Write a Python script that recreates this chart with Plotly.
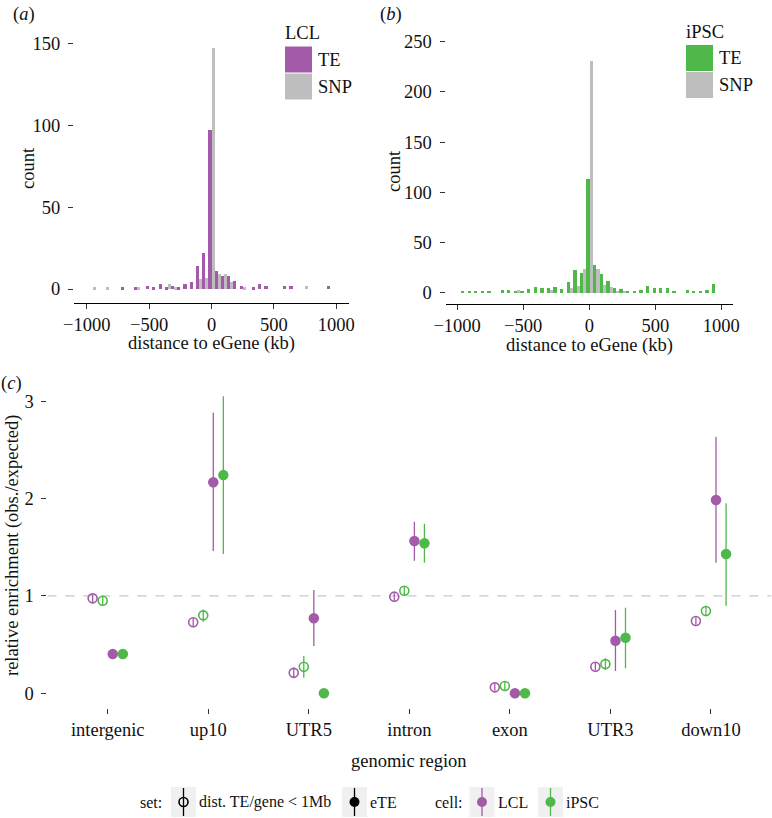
import plotly.graph_objects as go

W, H = 772, 818

# ---------------- data ----------------
BINS = [-1000, -950, -900, -850, -800, -750, -700, -650, -600, -550, -500,
        -450, -400, -350, -300, -250, -200, -150, -100, -50, 0,
        50, 100, 150, 200, 250, 300, 350, 400, 450, 500,
        550, 600, 650, 700, 750, 800, 850, 900, 950, 1000]

LCL_TE = [0, 0, 0, 0, 0, 0, 1, 0, 1, 0, 2,
          1, 3, 1, 2, 1, 3, 4, 14, 22, 97,
          11, 8, 8, 5, 2, 0, 1, 3, 2, 0,
          0, 2, 2, 0, 0, 0, 0, 0, 2, 0]
LCL_SNP = [0, 1, 0, 1, 0, 0, 0, 0, 1, 0, 0,
           0, 0, 3, 1, 0, 0, 0, 6, 7, 147,
           9, 9, 4, 0, 1, 0, 0, 0, 0, 0,
           0, 0, 0, 0, 2, 0, 0, 0, 0, 0]
IPSC_TE = [0, 2, 2, 2, 2, 2, 0, 3, 3, 1, 2,
           4, 6, 5, 5, 6, 4, 11, 23, 20, 113,
           28, 19, 12, 5, 4, 2, 2, 3, 7, 5,
           5, 5, 1, 0, 3, 1, 1, 3, 9, 0]
IPSC_SNP = [0, 0, 0, 0, 0, 0, 0, 0, 0, 3, 0,
            0, 0, 0, 3, 0, 0, 5, 7, 24, 231,
            24, 8, 6, 2, 1, 0, 0, 0, 0, 0,
            0, 0, 0, 0, 0, 0, 0, 0, 0, 0]

X_TICKS_A = [-1000, -500, 0, 500, 1000]
X_TICKTEXT_A = ["\u22121000", "\u2212500", "0", "500", "1000"]
Y_TICKS_A = [0, 50, 100, 150]
Y_TICKS_B = [0, 50, 100, 150, 200, 250]

REGIONS = ["intergenic", "up10", "UTR5", "intron", "exon", "UTR3", "down10"]

LCL_ALL = [0.975, 0.729, 0.21, 0.992, 0.061, 0.273, 0.742]
LCL_ALL_LO = [0.935, 0.69, 0.16, 0.955, 0.025, 0.235, 0.705]
LCL_ALL_HI = [1.015, 0.77, 0.265, 1.03, 0.10, 0.31, 0.78]

IPSC_ALL = [0.95, 0.80, 0.273, 1.053, 0.075, 0.30, 0.845]
IPSC_ALL_LO = [0.91, 0.735, 0.16, 1.01, 0.035, 0.24, 0.79]
IPSC_ALL_HI = [0.99, 0.86, 0.383, 1.10, 0.115, 0.36, 0.90]

LCL_ETE = [0.403, 2.166, 0.77, 1.564, 0.0, 0.54, 1.985]
LCL_ETE_LO = [0.37, 1.46, 0.486, 1.362, 0.0, 0.229, 1.341]
LCL_ETE_HI = [0.44, 2.88, 1.06, 1.762, 0.02, 0.855, 2.634]

IPSC_ETE = [0.403, 2.24, 0.0, 1.54, 0.0, 0.571, 1.43]
IPSC_ETE_LO = [0.37, 1.43, 0.0, 1.341, 0.0, 0.257, 0.90]
IPSC_ETE_HI = [0.44, 3.05, 0.02, 1.741, 0.02, 0.879, 1.95]

Y_TICKS_C = [0, 1, 2, 3]

# ---------------- style ----------------
PURPLE = "#A35BA9"
GREEN = "#4EB848"
GREY = "#BEBEBE"
KEYBG = "#F0F0F0"
FONT = "Liberation Serif"
TXT = "#111111"
FS = 18.5
LFS = 16


def px(x):
    return x / W


def py(y):
    return 1 - y / H


fig = go.Figure()

# Panel (a) histogram
fig.add_trace(go.Bar(x=BINS, y=LCL_TE, marker=dict(color=PURPLE, line=dict(width=0)),
                     offsetgroup="te", xaxis="x", yaxis="y", showlegend=False))
fig.add_trace(go.Bar(x=BINS, y=LCL_SNP, marker=dict(color=GREY, line=dict(width=0)),
                     offsetgroup="snp", xaxis="x", yaxis="y", showlegend=False))
# Panel (b) histogram
fig.add_trace(go.Bar(x=BINS, y=IPSC_TE, marker=dict(color=GREEN, line=dict(width=0)),
                     offsetgroup="te", xaxis="x2", yaxis="y2", showlegend=False))
fig.add_trace(go.Bar(x=BINS, y=IPSC_SNP, marker=dict(color=GREY, line=dict(width=0)),
                     offsetgroup="snp", xaxis="x2", yaxis="y2", showlegend=False))


def err(vals, lo, hi):
    return dict(type="data", symmetric=False,
                array=[h - v for v, h in zip(vals, hi)],
                arrayminus=[v - l for v, l in zip(vals, lo)],
                width=0, thickness=1.3)


series = [
    (LCL_ALL, LCL_ALL_LO, LCL_ALL_HI, PURPLE, True),
    (IPSC_ALL, IPSC_ALL_LO, IPSC_ALL_HI, GREEN, True),
    (LCL_ETE, LCL_ETE_LO, LCL_ETE_HI, PURPLE, False),
    (IPSC_ETE, IPSC_ETE_LO, IPSC_ETE_HI, GREEN, False),
]
for i, (v, lo, hi, col, is_open) in enumerate(series):
    e = err(v, lo, hi)
    e["color"] = col
    if is_open:
        marker = dict(symbol="circle-open", size=9, color=col, line=dict(width=1.6, color=col))
    else:
        marker = dict(symbol="circle", size=10.5, color=col, line=dict(width=0))
    fig.add_trace(go.Scatter(x=REGIONS, y=v, mode="markers", marker=marker,
                             error_y=e, offsetgroup="g%d" % i,
                             xaxis="x3", yaxis="y3", showlegend=False))

axis_common = dict(showgrid=False, zeroline=False, ticks="outside", ticklen=5,
                   tickwidth=1, tickcolor="#333333", automargin=False,
                   tickfont=dict(family=FONT, size=FS, color=TXT))

fig.update_layout(
    width=W, height=H,
    margin=dict(l=0, r=0, t=0, b=0, pad=0),
    paper_bgcolor="white", plot_bgcolor="white",
    barmode="group", bargap=0, bargroupgap=0,
    scattermode="group", scattergap=0.6,
    font=dict(family=FONT, size=FS, color=TXT),
    xaxis=dict(domain=[px(74), px(349)], range=[-1103, 1103], anchor="y",
               tickvals=X_TICKS_A, ticktext=X_TICKTEXT_A,
               showline=True, linecolor="black", linewidth=1, **axis_common),
    yaxis=dict(domain=[py(302.7), py(36)], range=[-8.35, 154.3], anchor="x",
               tickvals=Y_TICKS_A, showline=False, ticklabelstandoff=4, **axis_common),
    xaxis2=dict(domain=[px(445.5), px(733)], range=[-1088, 1088], anchor="y2",
                tickvals=X_TICKS_A, ticktext=X_TICKTEXT_A,
                showline=True, linecolor="black", linewidth=1, **axis_common),
    yaxis2=dict(domain=[py(303.5), py(38)], range=[-10.75, 253.7], anchor="x2",
                tickvals=Y_TICKS_B, showline=False, ticklabelstandoff=4, **axis_common),
    xaxis3=dict(domain=[px(47.4), px(771.3)], type="category",
                categoryorder="array", categoryarray=REGIONS,
                range=[-0.6, 6.6], anchor="y3", showline=False, **axis_common),
    yaxis3=dict(domain=[py(708.2), py(381.6)], range=[-0.153, 3.2], anchor="x3",
                tickvals=Y_TICKS_C, showline=False, ticklabelstandoff=4, **axis_common),
)

shapes = []
annotations = []


def text(s, x, y, xanchor="center", angle=0, size=FS):
    annotations.append(dict(text=s, x=px(x), y=py(y), xref="paper", yref="paper",
                            xanchor=xanchor, yanchor="middle", showarrow=False,
                            textangle=angle, font=dict(family=FONT, size=size, color=TXT)))


def rect(x0, y0, x1, y1, color):
    shapes.append(dict(type="rect", xref="paper", yref="paper",
                       x0=px(x0), x1=px(x1), y0=py(y1), y1=py(y0),
                       fillcolor=color, line=dict(width=0), layer="above"))


# reference line at 1
shapes.append(dict(type="line", xref="x3 domain", yref="y3", x0=0, x1=1, y0=1, y1=1,
                   line=dict(color="#C8C8C8", width=1.3, dash="dash"), layer="below"))

# panel labels
text("(<i>a</i>)", 11, 14, "left")
text("(<i>b</i>)", 378, 14, "left")
text("(<i>c</i>)", -1, 384, "left")

# axis titles
text("count", 28, 168, angle=-90)
text("count", 394, 171, angle=-90)
text("distance to eGene (kb)", 211.5, 344)
text("distance to eGene (kb)", 589, 345)
text("relative enrichment (obs./expected)", 12, 546, angle=-90)
text("genomic region", 409.4, 761)

# histogram legends
HIST_LEGEND = [("LCL", PURPLE, 285, 33.5), ("iPSC", GREEN, 686, 32)]
for title, col, x0, ty in HIST_LEGEND:
    text(title, x0 - 2, ty, "left")
    top = ty + 13
    rect(x0, top, x0 + 27, top + 26, col)
    rect(x0, top + 27, x0 + 27, top + 53, GREY)
    text("TE", x0 + 31, top + 13, "left")
    text("SNP", x0 + 31, top + 40, "left")

# bottom legend
LEG_Y = 802
text("set:", 164, LEG_Y, "right", size=LFS)
text("cell:", 465, LEG_Y, "right", size=LFS)
KEYS = [(171, "black", True, "dist. TE/gene &lt; 1Mb"),
        (342, "black", False, "eTE"),
        (469.5, PURPLE, False, "LCL"),
        (538, GREEN, False, "iPSC")]
for kx, col, is_open, label in KEYS:
    rect(kx, 787, kx + 25, 817, KEYBG)
    cx = kx + 12.5
    shapes.append(dict(type="line", xref="paper", yref="paper",
                       x0=px(cx), x1=px(cx), y0=py(816), y1=py(788),
                       line=dict(color=col, width=1.3), layer="above"))
    r = 4.5 if is_open else 5
    shapes.append(dict(type="circle", xref="paper", yref="paper",
                       x0=px(cx - r), x1=px(cx + r), y0=py(LEG_Y + r), y1=py(LEG_Y - r),
                       fillcolor=("rgba(0,0,0,0)" if is_open else col),
                       line=dict(color=col, width=1.6 if is_open else 0), layer="above"))
    text(label, kx + 26, LEG_Y, "left", size=LFS)

fig.update_layout(shapes=shapes, annotations=annotations)

fig.write_html("out.html", config={"displayModeBar": False},
               post_script="document.body.style.margin='0';document.body.style.overflow='hidden';")
